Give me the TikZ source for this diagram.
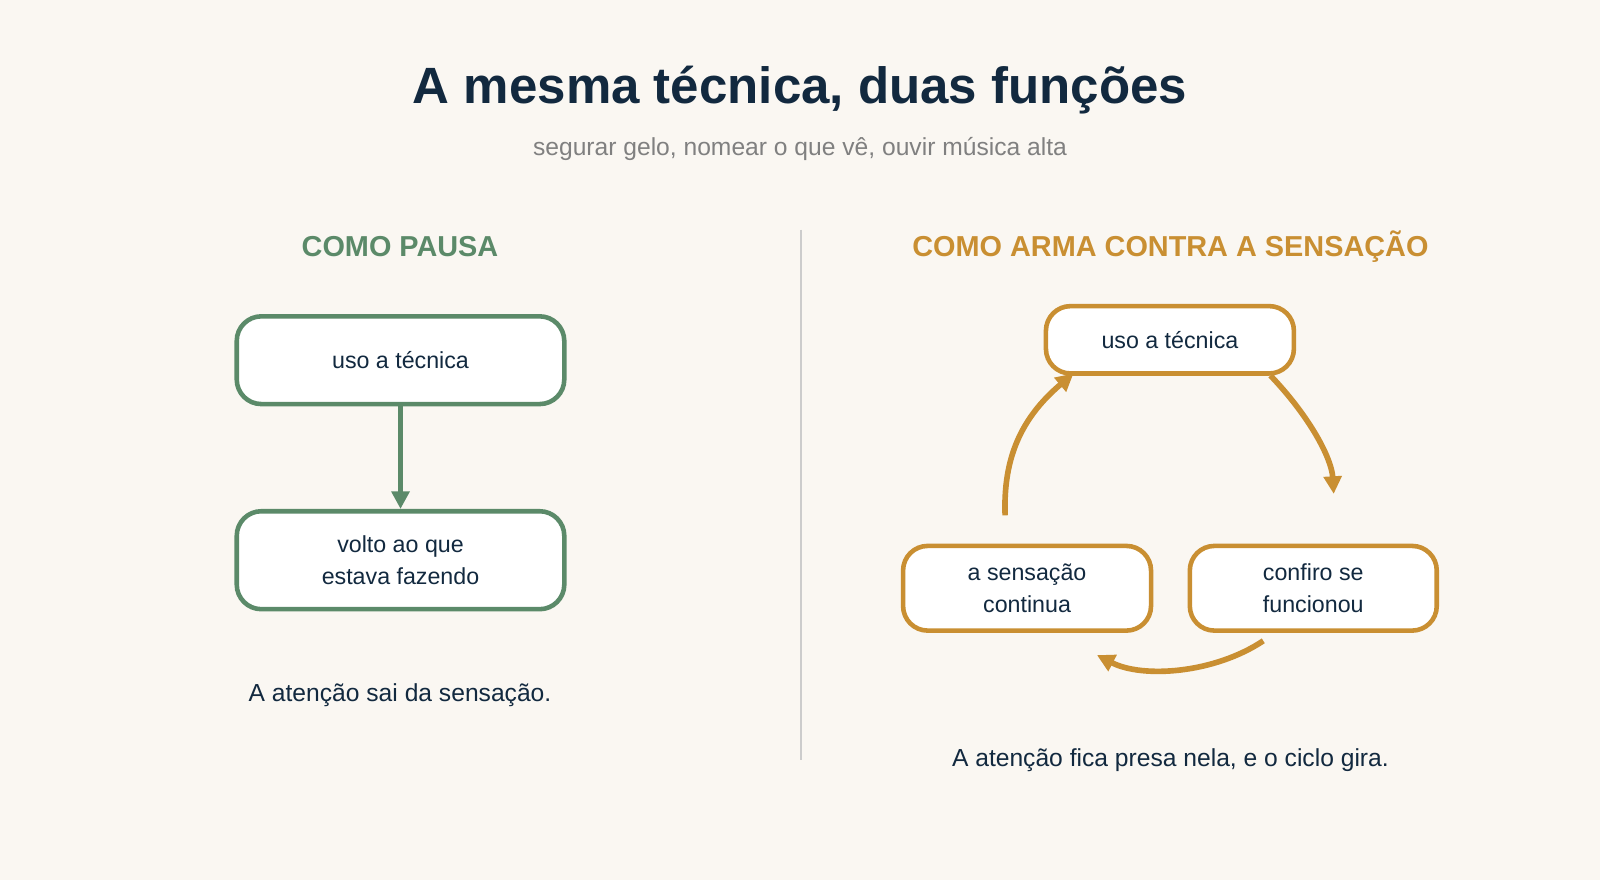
\documentclass[tikz,border=0pt]{standalone}
\usepackage{fontspec}
\setmainfont{Liberation Sans}
\usetikzlibrary{arrows.meta}
\definecolor{ink}{HTML}{12293F}
\definecolor{pausa}{HTML}{5B8A69}
\definecolor{arma}{HTML}{C98F32}
\definecolor{papel}{HTML}{FAF7F2}
\tikzset{
  caixa/.style={draw=#1, line width=1.3pt, rounded corners=7pt, fill=white,
    text=ink, align=center, font=\fontsize{6.6pt}{9pt}\selectfont, inner sep=0pt},
  seta/.style={draw=#1, line width=1.6pt, -{Triangle[width=5pt,length=5pt]}},
}
\begin{document}
\begin{tikzpicture}[x=0.0102cm,y=-0.0102cm]
        \fill[papel] (0,0) rectangle (1568,862);
        \useasboundingbox (0,0) rectangle (1568,862);
        \node[text=ink, font=\bfseries\fontsize{14.5pt}{16pt}\selectfont] (titulo) at (784,88) {A mesma técnica, duas funções};
        \node[text=gray, font=\fontsize{7pt}{9pt}\selectfont] (sub) at (784,146) {segurar gelo, nomear o que vê, ouvir música alta};
        \draw[black!20, line width=0.6pt] (785,225) -- (785,745);
        % lado esquerdo
        \node[text=pausa, font=\bfseries\fontsize{8.2pt}{10pt}\selectfont] (titpausa) at (392,242) {COMO PAUSA};
        \node[caixa=pausa, minimum width=321*0.0102cm, minimum height=86*0.0102cm] (uso) at (392.5,353) {uso a técnica};
        \node[caixa=pausa, minimum width=321*0.0102cm, minimum height=96*0.0102cm] (volto) at (392.5,549) {volto ao que\\estava fazendo};
        \draw[seta=pausa] (uso) -- (volto);
        \node[text=ink, font=\fontsize{7pt}{9pt}\selectfont] (legpausa) at (392,681) {A atenção sai da sensação.};
        % lado direito
        \node[text=arma, font=\bfseries\fontsize{8.2pt}{10pt}\selectfont] (titarma) at (1147,242) {COMO ARMA CONTRA A SENSAÇÃO};
        \node[caixa=arma, minimum width=243*0.0102cm, minimum height=66*0.0102cm] (uso2) at (1146.5,333) {uso a técnica};
        \node[caixa=arma, minimum width=243*0.0102cm, minimum height=83*0.0102cm] (sensacao) at (1006.5,576.5) {a sensação\\continua};
        \node[caixa=arma, minimum width=242*0.0102cm, minimum height=83*0.0102cm] (confiro) at (1287,576.5) {confiro se\\funcionou};
        \coordinate (a1) at (1245,368);
        \coordinate (a2) at (1307,484);
        \coordinate (b1) at (1238,628);
        \coordinate (b2) at (1075,642);
        \coordinate (c1) at (985,505);
        \coordinate (c2) at (1052,366);
        \draw[seta=arma] (a1) .. controls (1285,410) and (1305,450) .. (a2);
        \draw[seta=arma] (b1) .. controls (1190,660) and (1120,665) .. (b2);
        \draw[seta=arma] (c1) .. controls (983,450) and (1000,410) .. (c2);
        \node[text=ink, font=\fontsize{7pt}{9pt}\selectfont] (legarma) at (1147,745) {A atenção fica presa nela, e o ciclo gira.};
\end{tikzpicture}
\end{document}
